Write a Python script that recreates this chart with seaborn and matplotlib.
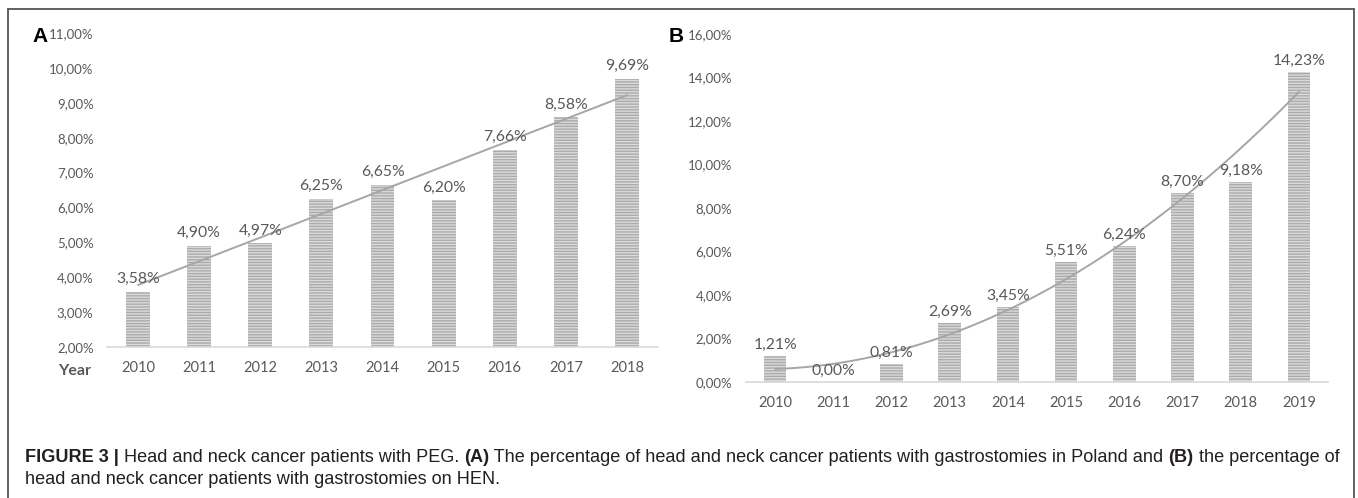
import numpy as np
import pandas as pd
import matplotlib
matplotlib.use("Agg")
import matplotlib.pyplot as plt
from matplotlib.lines import Line2D
import seaborn as sns

# ---- data ----
years_a = ["2010", "2011", "2012", "2013", "2014", "2015", "2016", "2017", "2018"]
pct_a = [3.58, 4.90, 4.97, 6.25, 6.65, 6.20, 7.66, 8.58, 9.69]
years_b = ["2010", "2011", "2012", "2013", "2014", "2015", "2016", "2017", "2018", "2019"]
pct_b = [1.21, 0.00, 0.81, 2.69, 3.45, 5.51, 6.24, 8.70, 9.18, 14.23]
yticks_a = [2, 3, 4, 5, 6, 7, 8, 9, 10, 11]
yticks_b = [0, 2, 4, 6, 8, 10, 12, 14, 16]

sns.set_style("white")
plt.rcParams["font.family"] = ["Lato", "DejaVu Sans"]
plt.rcParams["hatch.linewidth"] = 1.0

W, H = 1358, 498
fig = plt.figure(figsize=(W / 100, H / 100), dpi=100)

TXT = "#595959"
BAR_FC = "#dadada"
BAR_HC = "#ababab"
TREND = "#a6a6a6"
HATCH = "------"


def fmt(v):
    return f"{v:.2f}".replace(".", ",") + "%"


def panel(rect, cats, vals, ticks, order, label_off):
    ax = fig.add_axes(rect)
    df = pd.DataFrame({"year": cats, "pct": vals})
    sns.barplot(data=df, x="year", y="pct", ax=ax, color=BAR_FC, width=0.39,
                edgecolor=BAR_HC, linewidth=0, hatch=HATCH, saturation=1)
    for p in ax.patches:
        p.set_hatch(HATCH)
        p.set_facecolor(BAR_FC)
        p.set_edgecolor(BAR_HC)
        p.set_linewidth(0)
    sns.regplot(x=np.arange(len(vals)), y=np.array(vals), order=order, ci=None,
                scatter=False, truncate=True, ax=ax,
                line_kws=dict(color=TREND, lw=1.4))
    for i, v in enumerate(vals):
        ax.annotate(fmt(v), (i, v), xytext=(0, label_off), textcoords="offset points",
                    ha="center", va="bottom", fontsize=11.3, color=TXT)
    ax.set_xlim(-0.5, len(vals) - 0.5)
    ax.set_ylim(ticks[0], ticks[-1])
    ax.set_yticks(ticks)
    ax.set_yticklabels([fmt(t) for t in ticks], fontsize=9.5, color=TXT)
    ax.set_xticks(range(len(cats)))
    ax.set_xticklabels(cats, fontsize=10.5, color=TXT)
    ax.set_xlabel("")
    ax.set_ylabel("")
    ax.tick_params(axis="both", length=0)
    ax.tick_params(axis="x", pad=10)
    ax.tick_params(axis="y", pad=10)
    for s in ["top", "right", "left"]:
        ax.spines[s].set_visible(False)
    ax.spines["bottom"].set_color("#d9d9d9")
    ax.spines["bottom"].set_linewidth(1.2)
    ax.patch.set_alpha(0)
    return ax


axA = panel([107.5 / W, 151 / H, 550 / W, 314 / H], years_a, pct_a, yticks_a, 1, 4)
axB = panel([746 / W, 116 / H, 582 / W, 348 / H], years_b, pct_b, yticks_b, 2, 3)

fig.text(75 / W, 1 - 371 / H, "Year", fontsize=11.5, fontweight="bold", color=TXT,
         ha="center", va="center")
fig.text(40 / W, 1 - 36 / H, "A", fontsize=15, fontweight="bold", color="black",
         ha="center", va="center", family=["Liberation Sans"])
fig.text(676 / W, 1 - 36 / H, "B", fontsize=15, fontweight="bold", color="black",
         ha="center", va="center", family=["Liberation Sans"])

# border
for xs, ys in [([8, 8], [9, 500]), ([8, 1354], [9, 9]), ([1354, 1354], [9, 500])]:
    fig.add_artist(Line2D([x / W for x in xs], [1 - y / H for y in ys],
                          transform=fig.transFigure, color="#555555", lw=1.3))

# caption with mixed bold
fig.canvas.draw()
renderer = fig.canvas.get_renderer()
CAP = "#231f20"
cap_fs = 13.1


def write_line(parts, x0, y):
    x = x0
    for txt, bold in parts:
        t = fig.text(x / W, 1 - y / H, txt, fontsize=cap_fs,
                     fontweight="bold" if bold else "normal", color=CAP,
                     family=["Liberation Sans"], ha="left", va="baseline")
        bb = t.get_window_extent(renderer=renderer)
        x += bb.width


write_line([("FIGURE 3 |", True), (" Head and neck cancer patients with PEG. ", False),
            ("(A)", True),
            (" The percentage of head and neck cancer patients with gastrostomies in Poland and ", False),
            ("(B)", True), (" the percentage of", False)], 25, 462)
write_line([("head and neck cancer patients with gastrostomies on HEN.", False)], 25, 484)

fig.savefig("out.png", dpi=100, facecolor="white")
